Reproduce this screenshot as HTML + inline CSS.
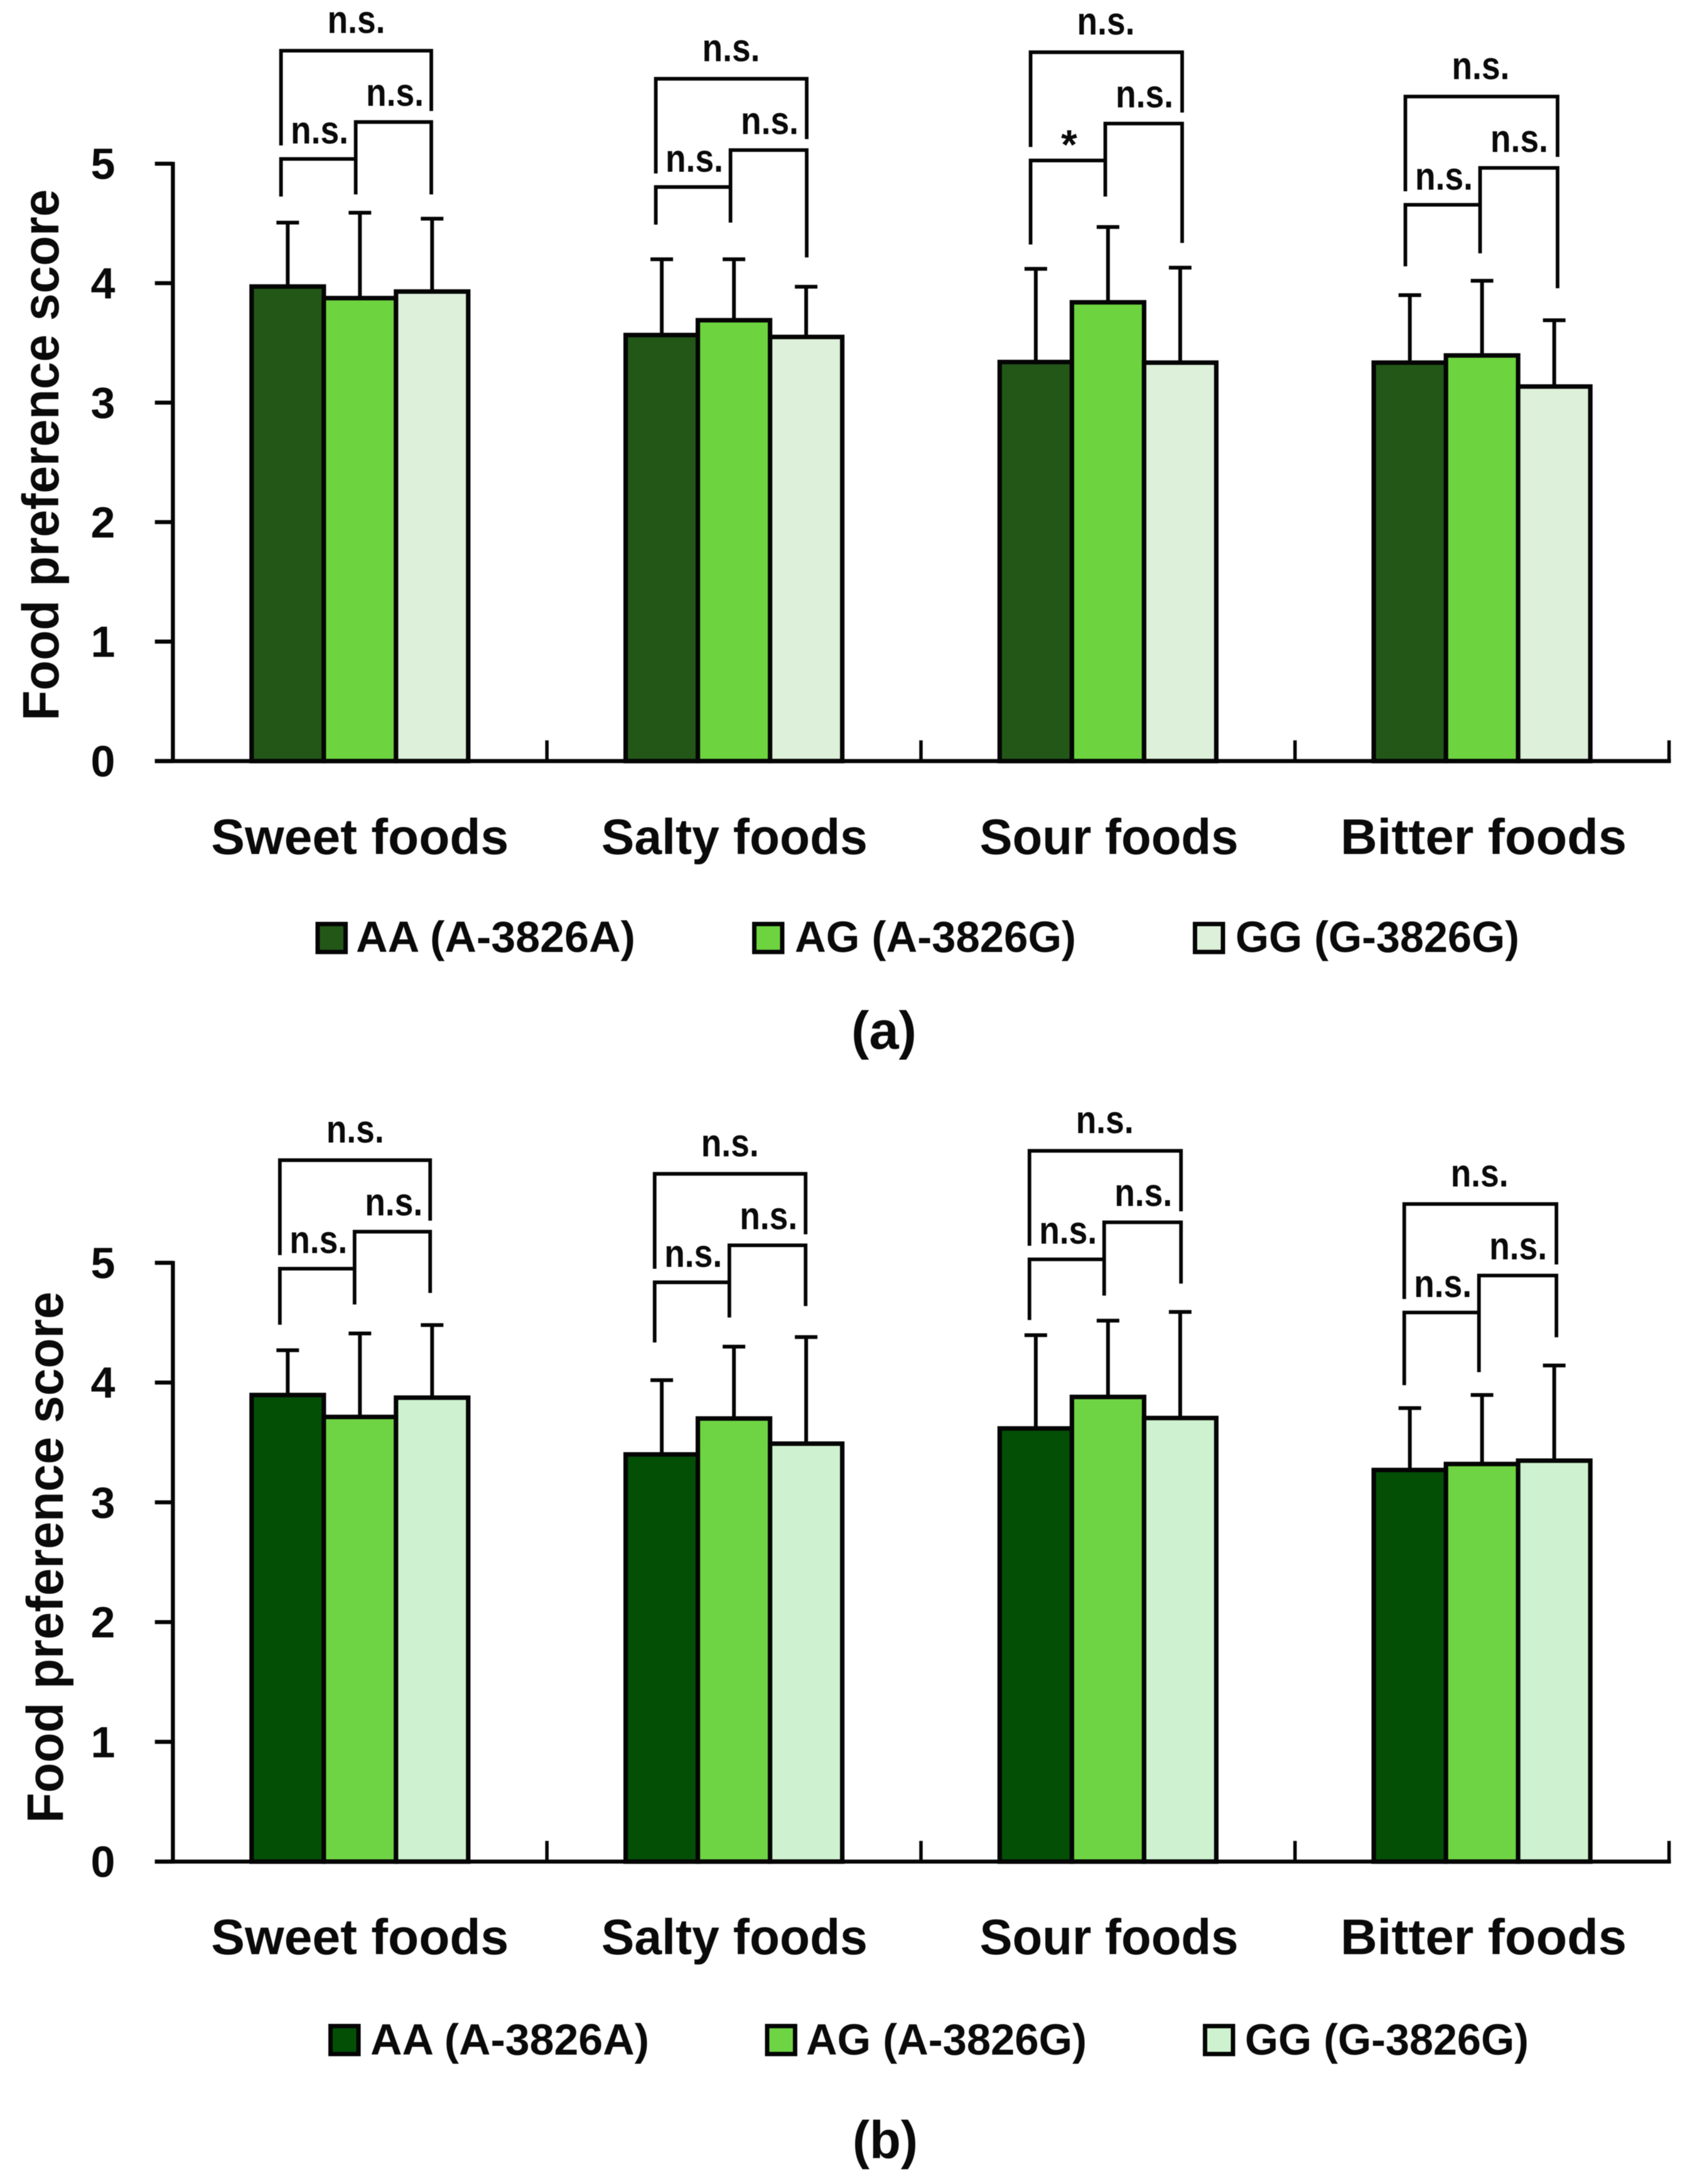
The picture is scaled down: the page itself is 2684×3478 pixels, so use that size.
<!DOCTYPE html>
<html lang="en">
<head>
<meta charset="utf-8">
<title>Food preference score by genotype</title>
<style>
html,body{margin:0;padding:0;background:#fff;}
body{width:2684px;height:3478px;overflow:hidden;}
svg{display:block;filter:blur(0.5px);}
text{font-family:"Liberation Sans",sans-serif;font-weight:700;fill:#0a0a0a;}
</style>
</head>
<body>
<svg id="figure" xmlns="http://www.w3.org/2000/svg" width="2684" height="3478" viewBox="0 0 2684 3478"></svg>
<script>
// ---------- chart data ----------
const categories = ['Sweet foods', 'Salty foods', 'Sour foods', 'Bitter foods'];
const yTickLabels = [0, 1, 2, 3, 4, 5];
const genotypes = ['AA', 'AG', 'GG'];
const legendLabels = ['AA (A-3826A)', 'AG (A-3826G)', 'GG (G-3826G)'];

// panel (a) mean scores and standard deviations
const panelA_AA = [3.972, 3.566, 3.340, 3.335];
const panelA_AG = [3.875, 3.690, 3.840, 3.395];
const panelA_GG = [3.930, 3.550, 3.335, 3.135];
const panelA_sdAA = [0.535, 0.634, 0.780, 0.565];
const panelA_sdAG = [0.715, 0.510, 0.630, 0.625];
const panelA_sdGG = [0.610, 0.420, 0.795, 0.555];

// panel (b) mean scores and standard deviations
const panelB_AA = [3.896, 3.400, 3.617, 3.270];
const panelB_AG = [3.713, 3.700, 3.880, 3.320];
const panelB_GG = [3.874, 3.490, 3.704, 3.348];
const panelB_sdAA = [0.374, 0.620, 0.779, 0.517];
const panelB_sdAG = [0.697, 0.600, 0.637, 0.576];
const panelB_sdGG = [0.606, 0.890, 0.886, 0.795];

// significance brackets, in score units
const panelA_bracketTop = [5.946, 5.711, 5.933, 5.562];
const panelA_legLeft = [4.725, 4.490, 4.324, 4.141];
const panelA_legMid = [4.743, 4.507, 4.725, 4.250];
const panelA_legRight = [4.743, 4.215, 4.337, 3.958];
const panelA_sigLeft = ['n.s.', 'n.s.', '*', 'n.s.'];

const panelB_bracketTop = [5.857, 5.743, 5.935, 5.491];
const panelB_legLeft = [4.483, 4.335, 4.522, 3.978];
const panelB_legMid = [4.652, 4.543, 4.726, 4.087];
const panelB_legRight = [4.748, 4.639, 4.826, 4.378];
const panelB_sigLeft = ['n.s.', 'n.s.', 'n.s.', 'n.s.'];

// ---------- layout ----------
const NS = 'http://www.w3.org/2000/svg';
const svg = document.getElementById('figure');
const AXIS_X = 275.4, BAND = 595.8, BAR_W = 115;
const INK = '#050505';
const catFit = [474, 424, 412, 456];
const panels = [
  { key: 'a', y0: 1212, y5: 260.7, colors: ['#225718', '#6dd43f', '#ddf0d9'],
    means: [panelA_AA, panelA_AG, panelA_GG], sds: [panelA_sdAA, panelA_sdAG, panelA_sdGG],
    top: panelA_bracketTop, legL: panelA_legLeft, legM: panelA_legMid, legR: panelA_legRight, sig: panelA_sigLeft,
    brX: 0, titleX: 93, titleMid: 724.5, catBase: 1360, legendBase: 1516, legendSwatchTop: 1471.5,
    legendSwatchX: [506, 1201.5, 1903.5], legendTextX: [567, 1266, 1968], legendTextW: [445, 448, 452],
    caption: '(a)', capX: 1408, capBase: 1670 },
  { key: 'b', y0: 2964.6, y5: 2011, colors: ['#034f06', '#6fd444', '#cef2cf'],
    means: [panelB_AA, panelB_AG, panelB_GG], sds: [panelB_sdAA, panelB_sdAG, panelB_sdGG],
    top: panelB_bracketTop, legL: panelB_legLeft, legM: panelB_legMid, legR: panelB_legRight, sig: panelB_sigLeft,
    brX: -1.8, titleX: 100, titleMid: 2480, catBase: 3112, legendBase: 3272, legendSwatchTop: 3226.5,
    legendSwatchX: [526.5, 1222, 1919.5], legendTextX: [590, 1284, 1983], legendTextW: [444, 447, 452],
    caption: '(b)', capX: 1410, capBase: 3437 }
];

function make(parent, tag, attrs, txt) {
  const el = document.createElementNS(NS, tag);
  for (const k in attrs) el.setAttribute(k, attrs[k]);
  if (txt !== undefined) el.textContent = txt;
  parent.appendChild(el);
  return el;
}

panels.forEach(function (p) {
  const unit = (p.y0 - p.y5) / 5;
  const yScale = function (v) { return p.y0 - v * unit; };
  const groupX = function (i) { return AXIS_X + BAND * (i + 0.5); };
  const barX = function (i, s) { return groupX(i) + (s - 1) * BAR_W; };

  const g = make(svg, 'g', {});
  
  

  // y axis title
  const title = make(g, 'text', {
    transform: 'translate(' + p.titleX + ',' + p.titleMid + ') rotate(-90)',
    'text-anchor': 'middle', 'font-size': 82, textLength: 846, lengthAdjust: 'spacingAndGlyphs'
  }, 'Food preference score');
  
  

  // bars
  p.means.forEach(function (series, s) {
    series.forEach(function (v, i) {
      const bar = make(g, 'rect', {
        x: barX(i, s) - BAR_W / 2, y: yScale(v), width: BAR_W, height: p.y0 - yScale(v),
        fill: p.colors[s], stroke: INK, 'stroke-width': 7.2
      });
      
      
    });
  });

  // error bars
  p.means.forEach(function (series, s) {
    series.forEach(function (v, i) {
      const cx = barX(i, s);
      const hi = yScale(v + p.sds[s][i]);
      const err = make(g, 'path', {
        d: 'M' + cx + ' ' + yScale(v) + 'V' + hi + 'M' + (cx - 18) + ' ' + hi + 'H' + (cx + 18),
        fill: 'none', stroke: INK, 'stroke-width': 6
      });
      
      
    });
  });

  // axes
  const yAxis = make(g, 'line', { x1: AXIS_X, y1: p.y5 - 3, x2: AXIS_X, y2: p.y0 + 3, stroke: INK, 'stroke-width': 6.4 });
  
  

  const xAxis = make(g, 'line', { x1: 246.7, y1: p.y0, x2: AXIS_X + BAND * categories.length + 3, y2: p.y0, stroke: INK, 'stroke-width': 6.4 });
  
  

  yTickLabels.forEach(function (t) {
    const tick = make(g, 'line', { x1: 246.7, y1: yScale(t), x2: AXIS_X, y2: yScale(t), stroke: INK, 'stroke-width': 6.4 });
    
    
    const lab = make(g, 'text', { x: 164, y: yScale(t) + 24.5, 'text-anchor': 'middle', 'font-size': 70 }, String(t));
    
    
  });

  categories.forEach(function (c, i) {
    const tick = make(g, 'line', { x1: AXIS_X + BAND * (i + 1), y1: p.y0 - 33, x2: AXIS_X + BAND * (i + 1), y2: p.y0, stroke: INK, 'stroke-width': 5.5 });
    
    
    const lab = make(g, 'text', {
      x: groupX(i) + i * 0.8, y: p.catBase, 'text-anchor': 'middle', 'font-size': 80,
      textLength: catFit[i], lengthAdjust: 'spacingAndGlyphs'
    }, c);
    
    
  });

  // significance brackets
  categories.forEach(function (c, i) {
    const name = c.split(' ')[0].toLowerCase();
    const xL = 447.6 + 597 * i + p.brX;
    const xM = 566.6 + 597 * i + p.brX;
    const xR = 687 + 598 * i + p.brX;
    const T = p.top[i];
    const outer = make(g, 'path', {
      d: 'M' + xL + ' ' + yScale(T - 0.793) + 'V' + yScale(T) + 'H' + xR + 'V' + yScale(T - 0.505),
      fill: 'none', stroke: INK, 'stroke-width': 5.8
    });
    
    
    const left = make(g, 'path', {
      d: 'M' + xL + ' ' + yScale(p.legL[i]) + 'V' + yScale(T - 0.906) + 'H' + xM,
      fill: 'none', stroke: INK, 'stroke-width': 5.8
    });
    
    
    const right = make(g, 'path', {
      d: 'M' + xM + ' ' + yScale(p.legM[i]) + 'V' + yScale(T - 0.597) + 'H' + xR + 'V' + yScale(p.legR[i]),
      fill: 'none', stroke: INK, 'stroke-width': 5.8
    });
    
    

    const yT = yScale(T);
    const topLab = make(g, 'text', { x: 567.5 + 597 * i + p.brX, y: yT - 28, 'text-anchor': 'middle', 'font-size': 62, textLength: 92, lengthAdjust: 'spacingAndGlyphs' }, 'n.s.');
    
    
    const rightLab = make(g, 'text', { x: 629 + 597 * i + p.brX, y: yT + 88, 'text-anchor': 'middle', 'font-size': 62, textLength: 92, lengthAdjust: 'spacingAndGlyphs' }, 'n.s.');
    
    
    const isStar = p.sig[i] === '*';
    const leftAttrs = isStar
      ? { x: 509 + 597 * i + p.brX, y: yT + 170, 'text-anchor': 'middle', 'font-size': 66 }
      : { x: 509 + 597 * i + p.brX, y: yT + 148, 'text-anchor': 'middle', 'font-size': 62, textLength: 92, lengthAdjust: 'spacingAndGlyphs' };
    const leftLab = make(g, 'text', leftAttrs, p.sig[i]);
    
    
  });

  // legend
  legendLabels.forEach(function (label, s) {
    const sw = make(g, 'rect', {
      x: p.legendSwatchX[s], y: p.legendSwatchTop, width: 44.5, height: 44.5,
      fill: p.colors[s], stroke: INK, 'stroke-width': 7
    });
    
    
    const tx = make(g, 'text', {
      x: p.legendTextX[s], y: p.legendBase, 'font-size': 70,
      textLength: p.legendTextW[s], lengthAdjust: 'spacingAndGlyphs'
    }, label);
    
    
  });

  // panel caption
  const cap = make(g, 'text', { x: p.capX, y: p.capBase, 'text-anchor': 'middle', 'font-size': 84, textLength: 104, lengthAdjust: 'spacingAndGlyphs' }, p.caption);
  
  
});
</script>
</body>
</html>
